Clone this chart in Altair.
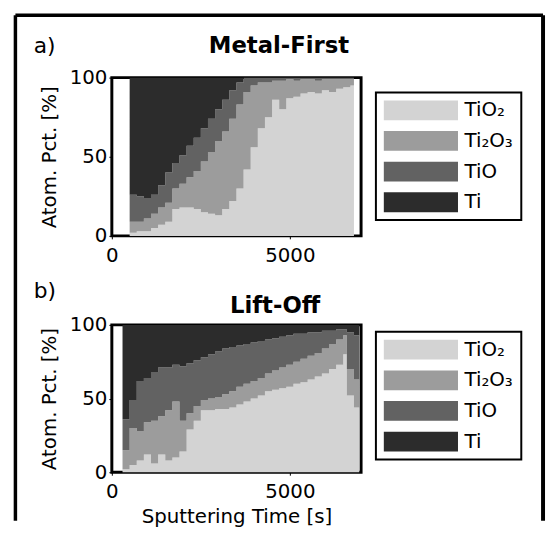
import altair as alt
import pandas as pd

FONT = "DejaVu Sans"

species = ["TiO₂", "Ti₂O₃", "TiO", "Ti"]
colors = ["#d3d3d3", "#9c9c9c", "#626262", "#2c2c2c"]

# Panel a: Metal-First  (upper edges of the stacked bands, %)
time_a = [500, 700, 900, 1100, 1300, 1500, 1700, 1900, 2100, 2300, 2500, 2700, 2900,
          3100, 3300, 3500, 3700, 3900, 4100, 4300, 4500, 4700, 4900, 5100, 5300, 5500,
          5700, 5900, 6100, 6300, 6500, 6700, 6800]
tio2_top_a = [2, 3, 3, 5, 7, 9, 17, 18, 18, 17, 15, 14, 13, 17, 22, 30, 42, 56, 68, 75,
              86, 80, 87, 88, 90, 91, 90, 92, 91, 93, 94, 95, 95]
ti2o3_top_a = [9, 9, 11, 14, 18, 21, 30, 33, 37, 41, 47, 53, 60, 66, 74, 83, 91, 95, 97, 97,
               98, 98, 99, 98, 99, 99, 98, 99, 99, 99, 99, 99, 99]
tio_top_a = [26, 25, 24, 26, 32, 40, 46, 51, 57, 62, 68, 74, 80, 86, 92, 97, 100, 100, 100, 100,
             100, 100, 100, 100, 100, 100, 100, 100, 100, 100, 100, 100, 100]

# Panel b: Lift-Off
time_b = [300, 500, 700, 900, 1100, 1300, 1500, 1700, 1900, 2100, 2300, 2500, 2700, 2900,
          3100, 3300, 3500, 3700, 3900, 4100, 4300, 4500, 4700, 4900, 5100, 5300, 5500,
          5700, 5900, 6100, 6300, 6500, 6600, 6800, 6950]
tio2_top_b = [2, 5, 8, 12, 6, 12, 8, 10, 14, 29, 35, 42, 42, 43, 43, 44, 46, 48, 50, 52,
              55, 56, 57, 58, 60, 61, 63, 65, 67, 70, 73, 80, 52, 44, 44]
ti2o3_top_b = [15, 30, 28, 34, 35, 38, 42, 48, 35, 40, 45, 49, 50, 51, 53, 55, 58, 60, 62, 64,
               67, 69, 71, 73, 75, 77, 79, 81, 84, 87, 90, 93, 70, 63, 63]
tio_top_b = [36, 49, 62, 64, 68, 71, 71, 73, 72, 74, 76, 78, 80, 82, 84, 85, 86, 87, 88, 89,
             90, 91, 92, 93, 94, 94, 95, 95, 96, 96, 97, 97, 95, 93, 93]

x_ticks = [0, 5000]
y_ticks = [0, 50, 100]


def long_df(times, b1, b2, b3):
    rows = []
    for t, a, b, c in zip(times, b1, b2, b3):
        edges = [0, a, b, c, 100]
        for i, s in enumerate(species):
            rows.append({"t": t, "lo": edges[i], "hi": edges[i + 1], "species": s})
    return pd.DataFrame(rows)


def panel(df, h, letter, title, title_x, letter_y, title_y, legend_y, xtitle, extra=None):
    xaxis = dict(values=x_ticks, format="d", labelFlush=False, tickSize=3, labelPadding=7)
    if xtitle:
        xaxis["title"] = xtitle
        xaxis["titlePadding"] = 5
    else:
        xaxis["title"] = ""
    area = alt.Chart(df).mark_area(interpolate="step-after").encode(
        x=alt.X("t:Q", scale=alt.Scale(domain=[0, 7000], nice=False), axis=alt.Axis(**xaxis)),
        y=alt.Y("hi:Q", scale=alt.Scale(domain=[0, 100], nice=False),
                axis=alt.Axis(values=y_ticks, title="Atom. Pct. [%]", tickSize=3,
                              labelPadding=2, titlePadding=10)),
        y2="lo:Q",
        color=alt.Color("species:N",
                        scale=alt.Scale(domain=species, range=colors),
                        sort=species,
                        legend=alt.Legend(title=None, orient="none", legendX=267,
                                          legendY=legend_y,
                                          symbolType="M-3.75,-1H3.75V1H-3.75Z",
                                          symbolSize=400, symbolOffset=27.5,
                                          symbolStrokeWidth=0,
                                          symbolOpacity=1, labelFont=FONT,
                                          labelFontSize=20, labelColor="black",
                                          labelOffset=34, rowPadding=11, padding=8,
                                          strokeColor="black")),
    )
    one = pd.DataFrame({"letter": [letter], "title": [title]})
    lab = alt.Chart(one).mark_text(font=FONT, fontSize=22, align="left",
                                   baseline="middle", color="black").encode(
        x=alt.value(-79), y=alt.value(letter_y), text="letter:N")
    ttl = alt.Chart(one).mark_text(font=FONT, fontSize=23, fontWeight="bold",
                                   align="center", baseline="middle", color="black").encode(
        x=alt.value(title_x), y=alt.value(title_y), text="title:N")
    layers = [area, lab, ttl]
    if extra is not None:
        layers += extra
    return alt.layer(*layers).properties(width=252, height=h)


frame_data = pd.DataFrame({"k": [0]})
frame_left = alt.Chart(frame_data).mark_rule(color="black", strokeWidth=3.5).encode(
    x=alt.value(-97.5), y=alt.value(-63), y2=alt.value(448))
frame_top = alt.Chart(frame_data).mark_rule(color="black", strokeWidth=3.5).encode(
    x=alt.value(-97.5), x2=alt.value(436), y=alt.value(-63))
frame_right = alt.Chart(frame_data).mark_rule(color="black", strokeWidth=4).encode(
    x=alt.value(436), y=alt.value(-63), y2=alt.value(448))

pa = panel(long_df(time_a, tio2_top_a, ti2o3_top_a, tio_top_a), 160, "a)", "Metal-First",
           169, -32, -32, 15, None, extra=[frame_left, frame_top, frame_right])
pb = panel(long_df(time_b, tio2_top_b, ti2o3_top_b, tio_top_b), 149, "b)", "Lift-Off",
           165, -34, -19, 7, "Sputtering Time [s]")

chart = alt.vconcat(pa, pb, spacing=90, bounds="flush").resolve_scale(
    color="independent").resolve_legend(color="independent").properties(
    padding={"left": 4, "top": 0.5, "right": 0, "bottom": 0}
).configure_view(stroke="black", strokeWidth=3).configure_axis(
    labelFont=FONT, labelFontSize=20, labelColor="black", titleFont=FONT,
    titleFontSize=20, titleFontWeight="normal", titleColor="black", domain=False,
    grid=False, tickColor="black"
).configure_legend(strokeWidth=2)

chart.save("out.html", embed_options={"renderer": "svg", "actions": False})
